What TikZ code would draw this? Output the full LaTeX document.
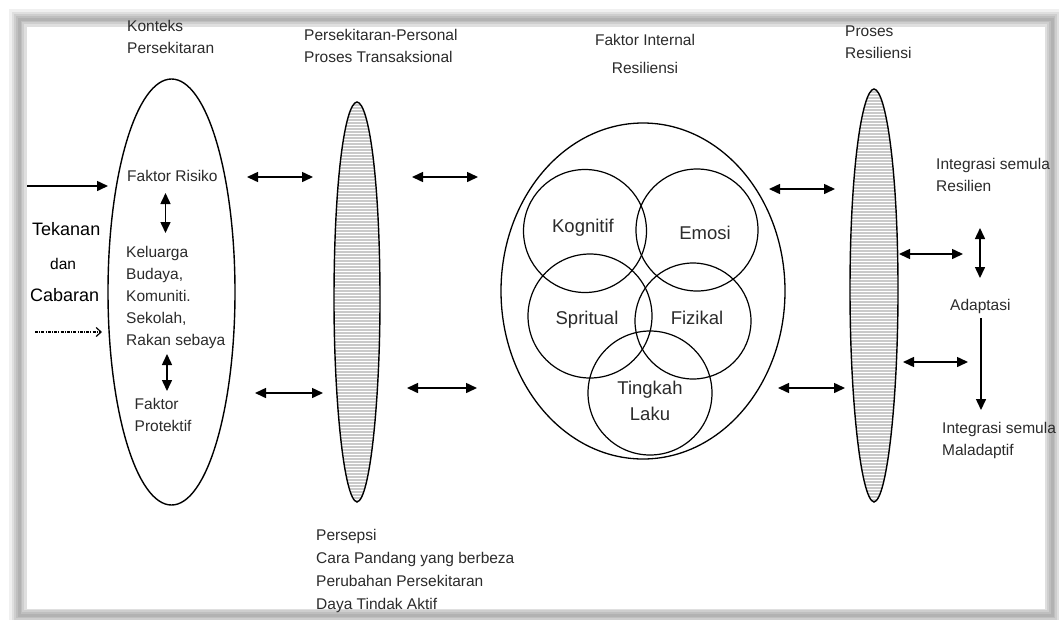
\documentclass[tikz,border=0pt]{standalone}
\usepackage{fontspec}
\setmainfont{Liberation Sans}
\usetikzlibrary{arrows.meta,shapes.geometric}
\definecolor{txt}{HTML}{2B2B2B}
\definecolor{hatch}{HTML}{C9C9C9}
\tikzset{
  lbl/.style={anchor=north west, inner sep=0pt, align=left, text=txt, font=\fontsize{15.5}{22}\selectfont},
  clbl/.style={inner sep=0pt, text=txt, font=\fontsize{18.5}{26}\selectfont, align=center},
  bigl/.style={anchor=north west, inner sep=0pt, text=black, font=\fontsize{18}{22}\selectfont},
  shp/.style={draw=black, line width=1.4pt},
  circ/.style={draw=black, line width=1.2pt, circle, inner sep=0pt},
  dbl/.style={line width=1.5pt, {Triangle[length=11pt,width=10pt]}-{Triangle[length=11pt,width=10pt]}},
  sgl/.style={line width=1.5pt, -{Triangle[length=11pt,width=10pt]}},
}
\newcommand{\spAPath}{(357,102) .. controls (369,103) and (380,180) .. (380,300) .. controls (380,400) and (370,500) .. (357,502) .. controls (344,500) and (334,400) .. (334,300) .. controls (334,180) and (345,103) .. cycle}
\newcommand{\spBPath}{(874,89) .. controls (886,90) and (898,170) .. (898,290) .. controls (898,400) and (887,500) .. (874,502) .. controls (861,500) and (850,400) .. (850,290) .. controls (850,170) and (862,90) .. cycle}
\begin{document}
\begin{tikzpicture}[x=1pt,y=-1pt]
\useasboundingbox (0,0) rectangle (1059,619);
% shadow frame
\foreach \w/\o in {20/0.12,15/0.15,10/0.18,6/0.2,3/0.2}{
  \draw[line width=\w pt, gray, opacity=\o] (19,19) rectangle (1052,615);
}
\fill[white] (27,27) rectangle (1045,609);

% left ellipse
\node[shp, ellipse, minimum width=127pt, minimum height=426pt, inner sep=0pt] (env) at (171.5,292) {};
% spindles
\begin{scope}
  \clip \spAPath;
  \fill[hatch] (320,95) rectangle (395,510);
  \foreach \yy in {103,106,...,503} \draw[white, line width=0.8pt] (320,\yy) -- (395,\yy);
\end{scope}
\draw[shp] \spAPath;
\coordinate (sp1) at (357,302);
\begin{scope}
  \clip \spBPath;
  \fill[hatch] (840,85) rectangle (905,510);
  \foreach \yy in {90,93,...,503} \draw[white, line width=0.8pt] (840,\yy) -- (905,\yy);
\end{scope}
\draw[shp] \spBPath;
\coordinate (sp2) at (874,295);

% internal factors
\draw[shp, line width=1.3pt] (643,291) ellipse [x radius=142, y radius=168];
\node[circ, minimum size=123pt] (kog) at (585,231) {};
\node[circ, minimum size=122pt] (emo) at (697,230) {};
\node[circ, minimum size=124pt] (spi) at (590,316) {};
\node[circ, minimum size=116pt] (fiz) at (693,321) {};
\node[circ, minimum size=124pt] (tin) at (650,393) {};
\node[clbl] at (583,228) {Kognitif};
\node[clbl] at (705,233) {Emosi};
\node[clbl] at (587,320) {Spritual};
\node[clbl] at (697,318) {Fizikal};
\node[clbl] at (650,401) {Tingkah\\Laku};

% headings
\node[lbl] (h1) at (127,20) {Konteks\\Persekitaran};
\node[lbl] (h2) at (304,29) {Persekitaran-Personal\\Proses Transaksional};
\node[lbl, align=center, anchor=north, font=\fontsize{15.5}{28.5}\selectfont] (h3) at (645,34) {Faktor Internal\\Resiliensi};
\node[lbl] (h4) at (845,26) {Proses\\Resiliensi};

% left side
\node[bigl] (tek) at (32,222) {Tekanan};
\node[lbl, text=black, font=\fontsize{15.5}{22}\selectfont] (dan) at (50,258) {dan};
\node[bigl] (cab) at (30,288) {Cabaran};
\coordinate (in1a) at (27,186);  \coordinate (in1b) at (108,186);
\draw[sgl] (in1a) -- (in1b);
\coordinate (in2a) at (35,332);  \coordinate (in2b) at (102,332);
\draw[line width=1.2pt, dash pattern=on 3pt off 1.2pt on 1pt off 1.2pt, -{Straight Barb[length=5pt,width=9pt]}] (in2a) -- (in2b);

\node[lbl] (risk) at (127,170) {Faktor Risiko};
\node[lbl] (kel) at (126,246) {Keluarga\\Budaya,\\Komuniti.\\Sekolah,\\Rakan sebaya};
\node[lbl] (prot) at (134.5,398) {Faktor\\Protektif};
\coordinate (v1a) at (165.5,193); \coordinate (v1b) at (165.5,233);
\draw[dbl] (v1a) -- (v1b);
\coordinate (v2a) at (167,354); \coordinate (v2b) at (167,391);
\draw[dbl] (v2a) -- (v2b);

% horizontal double arrows
\coordinate (a1a) at (247,177); \coordinate (a1b) at (313,177); \draw[dbl] (a1a) -- (a1b);
\coordinate (a2a) at (412,177); \coordinate (a2b) at (478,177); \draw[dbl] (a2a) -- (a2b);
\coordinate (a3a) at (255,393); \coordinate (a3b) at (323,393); \draw[dbl] (a3a) -- (a3b);
\coordinate (a4a) at (407,388); \coordinate (a4b) at (477,388); \draw[dbl] (a4a) -- (a4b);
\coordinate (a5a) at (769,189); \coordinate (a5b) at (835,189); \draw[dbl] (a5a) -- (a5b);
\coordinate (a6a) at (778,388); \coordinate (a6b) at (845,388); \draw[dbl] (a6a) -- (a6b);
\coordinate (a7a) at (899,254); \coordinate (a7b) at (963,254); \draw[dbl] (a7a) -- (a7b);
\coordinate (a8a) at (903,362); \coordinate (a8b) at (968,362); \draw[dbl] (a8a) -- (a8b);

% right side
\node[lbl] (ir) at (936,158) {Integrasi semula\\Resilien};
\node[lbl] (ad) at (950,299) {Adaptasi};
\node[lbl] (im) at (942,422) {Integrasi semula\\Maladaptif};
\coordinate (v3a) at (980,228); \coordinate (v3b) at (980,278);
\draw[dbl] (v3a) -- (v3b);
\coordinate (v4a) at (981,318); \coordinate (v4b) at (981,410);
\draw[sgl] (v4a) -- (v4b);

% bottom text
\node[lbl, font=\fontsize{15.5}{23}\selectfont] (pers) at (316,529) {Persepsi\\Cara Pandang yang berbeza\\Perubahan Persekitaran\\Daya Tindak Aktif};
\end{tikzpicture}
\end{document}
